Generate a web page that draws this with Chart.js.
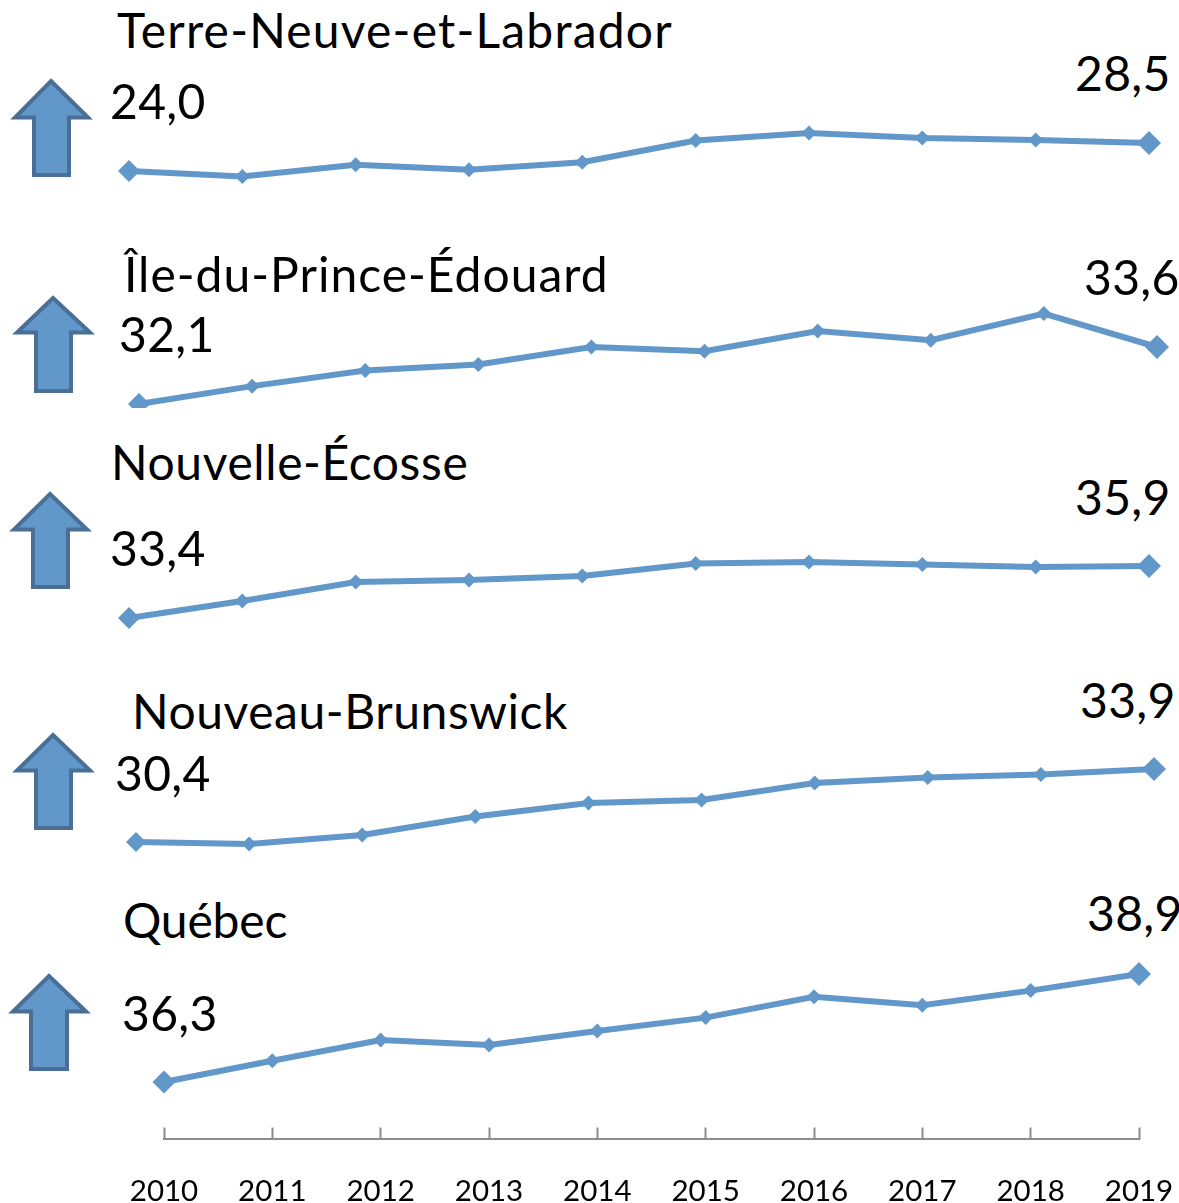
<!DOCTYPE html>
<html lang="fr"><head><meta charset="utf-8">
<script src="https://cdn.jsdelivr.net/npm/chart.js@4"></script>
<style>
html,body{margin:0;padding:0;background:#fff;width:1179px;height:1203px;overflow:hidden}
#stage{position:relative;width:1179px;height:1203px;overflow:hidden;font-family:Lato,sans-serif;color:#000}
canvas{position:absolute;left:0}
.t{position:absolute;white-space:nowrap;line-height:1.2;font-size:48px}
svg{position:absolute;left:0;top:0}
</style></head><body><div id="stage"></div>
<script>
const years = ['2010','2011','2012','2013','2014','2015','2016','2017','2018','2019'];
const provinces = ['Terre-Neuve-et-Labrador','Île-du-Prince-Édouard','Nouvelle-Écosse','Nouveau-Brunswick','Québec'];
const startLabels = ['24,0','32,1','33,4','30,4','36,3'];
const endLabels = ['28,5','33,6','35,9','33,9','38,9'];
const nlValues = [24.0,23.1,25.0,24.2,25.4,28.9,30.1,29.3,29.0,28.5];
const peValues = [32.1,32.57,32.98,33.14,33.6,33.49,34.02,33.78,34.48,33.6];
const nsValues = [33.4,34.22,35.13,35.23,35.42,36.02,36.09,35.97,35.85,35.9];
const nbValues = [30.4,30.3,30.74,31.62,32.27,32.41,33.23,33.49,33.64,33.9];
const qcValues = [36.3,36.81,37.31,37.19,37.53,37.85,38.35,38.15,38.5,38.9];
const series = [nlValues,peValues,nsValues,nbValues,qcValues];

// layout only
const LINE='#6197C9', ARROW_EDGE='#4A6F97', AXIS='#8C8C8C';
const layout = [
 {x0:129,x1:1149,first:171,last:143,top:110,bottom:200,r0:11,arrow:[51,79,12,91,119,32,71,177],title:[117,48],ls:1.2,start:[110,119],end:[1075,91]},
 {x0:139,x1:1157,first:404,last:347,top:290,bottom:408,r0:11,arrow:[53,296,14,93,334,34,73,393],title:[124,292],ls:1,start:[119,352],end:[1084,295]},
 {x0:129,x1:1149,first:618,last:566,top:540,bottom:640,r0:11,arrow:[50,492,11,90,531,31,70,589],title:[111,480],ls:.6,start:[110,566],end:[1075,515]},
 {x0:136,x1:1154,first:842,last:769,top:750,bottom:860,r0:10,arrow:[53,733,14,93,772,34,73,830],title:[132,729],ls:.55,start:[115,791],end:[1080,718]},
 {x0:164,x1:1139,first:1082,last:974,top:950,bottom:1138.5,r0:11.5,arrow:[49,974,10,89,1013,29,69,1071],title:[123,938],ls:-.2,start:[122,1031],end:[1087,931],axis:true}
];
const stage=document.getElementById('stage');
const BASE=0.987*48;

function addText(txt,pos,ls){
  const d=document.createElement('div');d.className='t';d.textContent=txt;
  d.style.left=pos[0]+'px';d.style.top=(pos[1]-BASE)+'px';
  d.style.letterSpacing=(ls||0)+'px';stage.appendChild(d);
}
const svgNS='http://www.w3.org/2000/svg';
const svg=document.createElementNS(svgNS,'svg');svg.setAttribute('width',1179);svg.setAttribute('height',1203);stage.appendChild(svg);

layout.forEach((L,i)=>{
  const vals=series[i], n=vals.length;
  const k=(L.first-L.last)/(vals[n-1]-vals[0]);
  const yMax=vals[0]+(L.first-L.top)/k, yMin=vals[0]-(L.bottom-L.first)/k;
  const c=document.createElement('canvas');
  const canvasBottom=L.axis?1203:L.bottom;
  const h=canvasBottom-L.top;
  c.width=1179;c.height=h;c.style.top=L.top+'px';c.style.width='1179px';c.style.height=h+'px';
  stage.appendChild(c);
  const xScale={display:!!L.axis,offset:false,
    border:{display:true,color:AXIS,width:2},
    grid:{display:true,drawOnChartArea:false,drawTicks:true,tickLength:-11,tickColor:AXIS,tickWidth:2},
    ticks:{autoSkip:false,maxRotation:0,minRotation:0,padding:46,color:'#000',font:{family:'Lato',size:29.5}}};
  if(L.axis) xScale.afterFit=s=>{s.height=1203-1138.5;s.paddingLeft=0;s.paddingRight=0;s.paddingTop=0;s.paddingBottom=0;};
  new Chart(c,{type:'line',
    data:{labels:years,datasets:[{data:vals,borderColor:LINE,backgroundColor:LINE,borderWidth:6,tension:0,clip:false,
      pointStyle:'rectRot',pointBorderWidth:0,pointBackgroundColor:LINE,
      pointRadius:ctx=>ctx.dataIndex===0?L.r0:ctx.dataIndex===n-1?12:7.5}]},
    options:{responsive:false,animation:false,devicePixelRatio:1,
      layout:{autoPadding:false,padding:{left:L.x0,right:1179-L.x1,top:0,bottom:0}},
      plugins:{legend:{display:false},title:{display:false},tooltip:{enabled:false}},
      scales:{y:{display:false,min:yMin,max:yMax},x:xScale}}
  });
  const A=L.arrow, p=document.createElementNS(svgNS,'polygon');
  const tip=A[1]+2, wy=A[4]-1.5, wl=A[2]+3, wr=A[3]-3, sl=A[5]+2, sr=A[6]-2, by=A[7]-2;
  p.setAttribute('points',[[A[0],tip],[wr,wy],[sr,wy],[sr,by],[sl,by],[sl,wy],[wl,wy]].map(q=>q.join(',')).join(' '));
  p.setAttribute('fill',LINE);p.setAttribute('stroke',ARROW_EDGE);p.setAttribute('stroke-width','4');
  svg.appendChild(p);
  addText(provinces[i],L.title,L.ls);addText(startLabels[i],L.start,.3);addText(endLabels[i],L.end,.3);
});
</script></body></html>
